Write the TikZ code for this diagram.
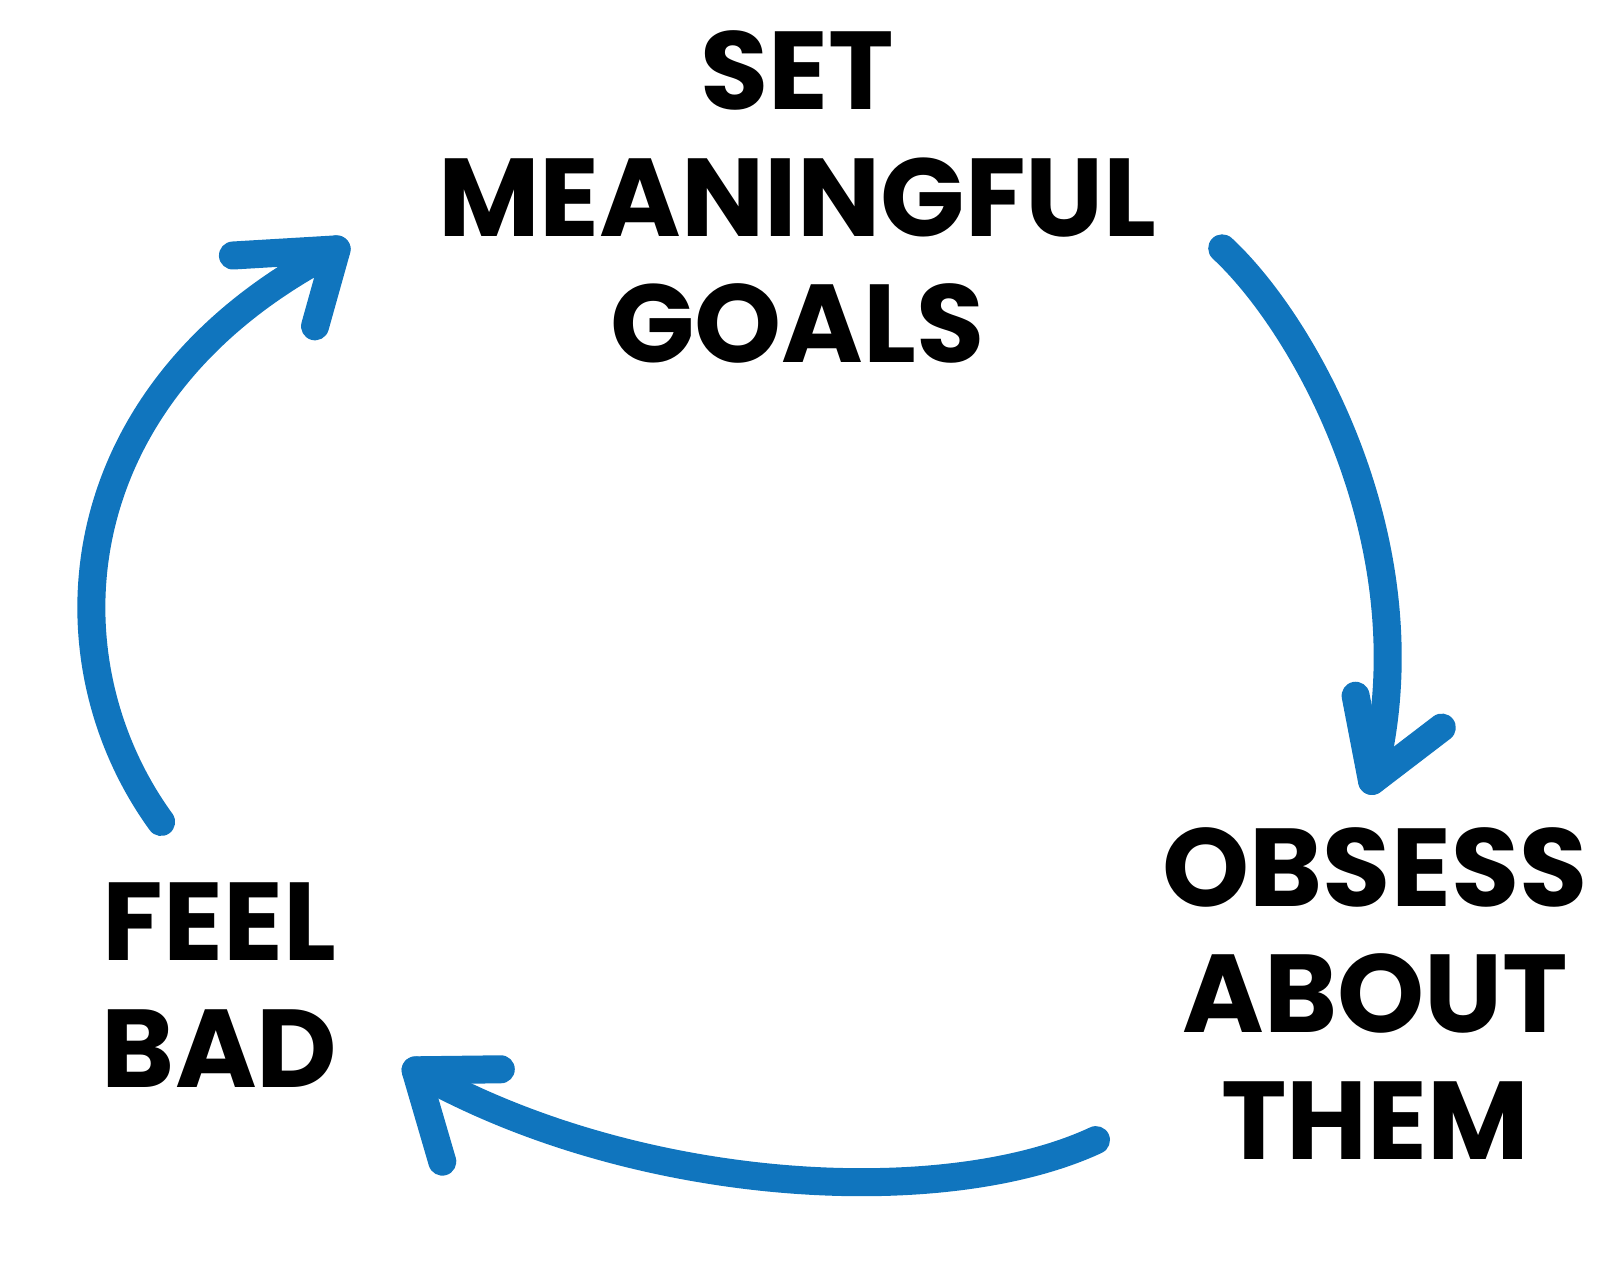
\documentclass[tikz,border=0pt]{standalone}
\usepackage{fontspec}
\setmainfont{Poppins}
\usepackage{tikz}
\usetikzlibrary{positioning}
\tikzstyle{canvas} = [x = .01026cm, y = -.01026cm]
\definecolor{arrowColor}{RGB}{16,117,190}
\tikzstyle{cycleArrow} = [color=arrowColor, line width = .28cm, line cap = round, line join = round]
\tikzstyle{stepText} = [align=center, font=\fontsize{31.5}{36}\selectfont\bfseries]
\newcommand{\arrowHead}[3]{\draw [cycleArrow] (#1) -- (#2) -- (#3);}

\begin{document}
\begin{tikzpicture}[canvas]
            \useasboundingbox (0,0) rectangle (1565,1237);

            % the three steps
            \node [stepText] (goals) at (777,192) {SET\\MEANINGFUL\\GOALS};
            \node [stepText] (obsess) at (1340,968) {OBSESS\\ABOUT\\THEM};
            \node [stepText] (feelBad) at (214,960) {FEEL\\BAD};

            % arrow ends
            \coordinate (goalsOut) at (1191,242);
            \coordinate (obsessIn) at (1337,761);
            \coordinate (obsessOut) at (1068,1111);
            \coordinate (feelBadIn) at (405,1043);
            \coordinate (feelBadOut) at (157,801);
            \coordinate (goalsIn) at (328,243);

            \draw [cycleArrow] (goalsOut) .. controls (1275,320) and (1395,540) .. (obsessIn);
            \arrowHead{1321,678}{obsessIn}{1405,709}

            \draw [cycleArrow] (obsessOut) .. controls (920,1180) and (620,1165) .. (feelBadIn);
            \arrowHead{488,1042}{feelBadIn}{431,1132}

            \draw [cycleArrow] (feelBadOut) .. controls (40,640) and (60,380) .. (goalsIn);
            \arrowHead{227,249}{goalsIn}{307,318}
          \end{tikzpicture}
\end{document}
